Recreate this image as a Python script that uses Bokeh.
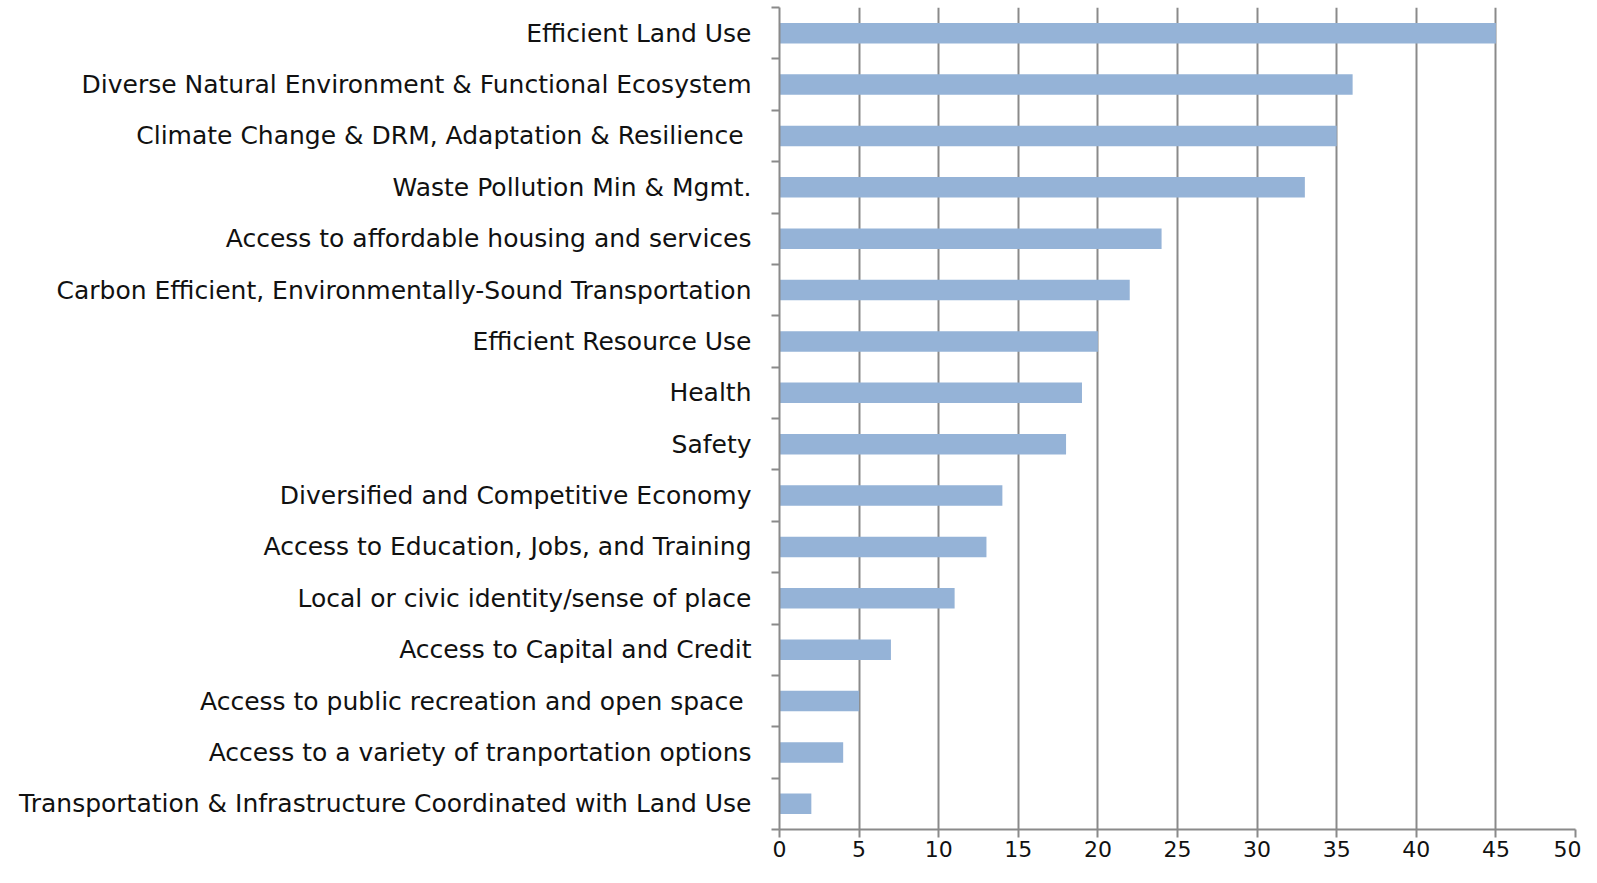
from bokeh.plotting import figure
from bokeh.models import FixedTicker, Range1d
from bokeh.embed import file_html
from bokeh.resources import INLINE

categories = [
    "Efficient Land Use",
    "Diverse Natural Environment & Functional Ecosystem",
    "Climate Change &  DRM, Adaptation & Resilience",
    "Waste Pollution Min & Mgmt.",
    "Access to affordable housing and services",
    "Carbon Efficient, Environmentally-Sound Transportation",
    "Efficient Resource Use",
    "Health",
    "Safety",
    "Diversified and Competitive Economy",
    "Access to Education, Jobs, and Training",
    "Local or civic identity/sense of place",
    "Access to Capital and Credit",
    "Access to public recreation and open space ",
    "Access to a variety of tranportation options",
    "Transportation & Infrastructure Coordinated with Land Use",
]
values = [45, 36, 35, 33, 24, 22, 20, 19, 18, 14, 13, 11, 7, 5, 4, 2]
x_ticks = [0, 5, 10, 15, 20, 25, 30, 35, 40, 45, 50]

n = len(categories)
ypos = [n - 0.5 - i for i in range(n)]

FONT = "DejaVu Sans"
GRID = "#8a8a8a"

p = figure(width=1581, height=867, output_backend="svg", toolbar_location=None,
           x_range=Range1d(0, 50), y_range=Range1d(0, n),
           min_border_left=779, min_border_right=6, min_border_top=7, min_border_bottom=38)
p.outline_line_color = None
p.background_fill_color = "white"

p.hbar(y=ypos, right=values, left=0, height=0.4, color="#95B3D7", line_color=None)

p.xaxis.ticker = FixedTicker(ticks=x_ticks)
p.xaxis.axis_line_color = GRID
p.xaxis.axis_line_width = 2
p.xaxis.major_tick_line_color = GRID
p.xaxis.major_tick_line_width = 2
p.xaxis.major_tick_in = 0
p.xaxis.major_tick_out = 8
p.xaxis.minor_tick_line_color = None
p.xaxis.major_label_text_font = FONT
p.xaxis.major_label_text_font_size = "22px"
p.xaxis.major_label_text_color = "#111111"
p.xaxis.major_label_standoff = 3

p.yaxis.ticker = FixedTicker(ticks=ypos, minor_ticks=list(range(n + 1)))
p.yaxis.major_label_overrides = {y: c for y, c in zip(ypos, categories)}
p.yaxis.axis_line_color = GRID
p.yaxis.axis_line_width = 2
p.yaxis.major_tick_line_color = None
p.yaxis.major_tick_in = 0
p.yaxis.major_tick_out = 0
p.yaxis.minor_tick_line_color = GRID
p.yaxis.minor_tick_line_width = 2
p.yaxis.minor_tick_in = 0
p.yaxis.minor_tick_out = 8
p.yaxis.major_label_text_font = FONT
p.yaxis.major_label_text_font_size = "25px"
p.yaxis.major_label_text_color = "#111111"
p.yaxis.major_label_standoff = 20

p.xgrid.ticker = FixedTicker(ticks=x_ticks)
p.xgrid.grid_line_color = GRID
p.xgrid.grid_line_width = 2
p.ygrid.grid_line_color = None

open("out.html", "w").write(file_html(p, INLINE))
